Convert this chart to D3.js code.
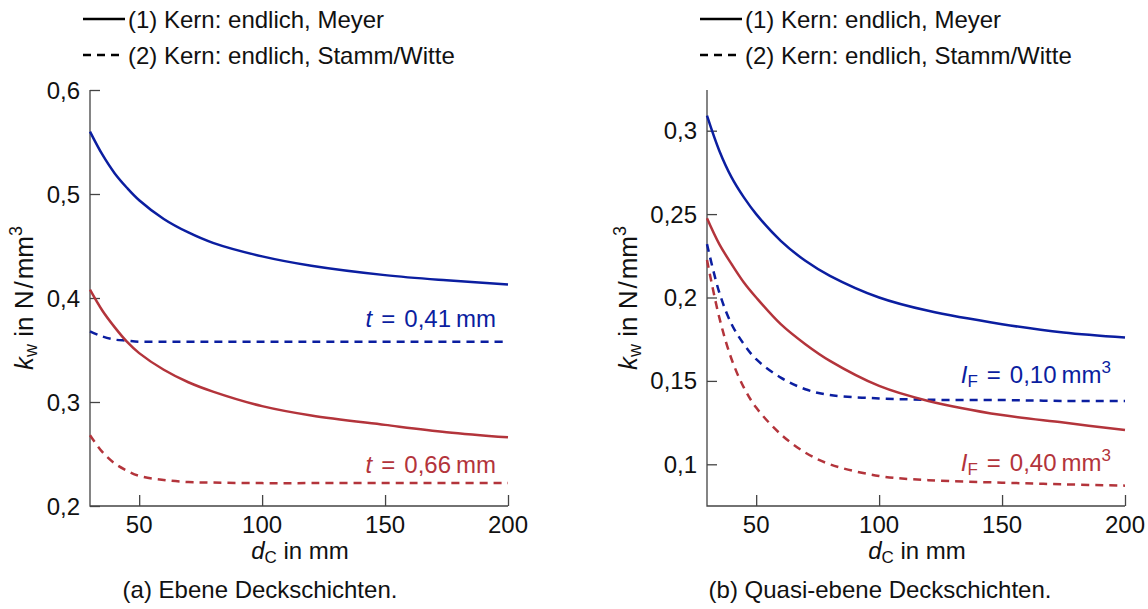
<!DOCTYPE html>
<html>
<head>
<meta charset="utf-8">
<script src="https://cdn.jsdelivr.net/npm/d3@7"></script>
<style>
  body { margin: 0; background: #fff; }
  text { font-family: "Liberation Sans", Arial, sans-serif; fill: #111; }
</style>
</head>
<body>
<svg id="chart" width="1148" height="609"></svg>
<script>
// d_C in mm
const dC = [30, 35, 40, 45, 50, 60, 70, 80, 100, 120, 150, 175, 200];

// (a) Ebene Deckschichten
const aMeyerT041 = [0.560, 0.538, 0.520, 0.506, 0.494, 0.476, 0.463, 0.453, 0.440, 0.431, 0.422, 0.417, 0.413];
const aStammT041 = [0.368, 0.363, 0.360, 0.359, 0.358, 0.358, 0.358, 0.358, 0.358, 0.358, 0.358, 0.358, 0.358];
const aMeyerT066 = [0.408, 0.388, 0.372, 0.358, 0.347, 0.331, 0.319, 0.310, 0.296, 0.287, 0.278, 0.271, 0.266];
const aStammT066 = [0.268, 0.252, 0.241, 0.234, 0.229, 0.225, 0.223, 0.2225, 0.222, 0.222, 0.222, 0.222, 0.222];

// (b) Quasi-ebene Deckschichten
const bMeyerI010 = [0.309, 0.288, 0.272, 0.260, 0.250, 0.234, 0.222, 0.213, 0.200, 0.192, 0.184, 0.179, 0.176];
const bStammI010 = [0.232, 0.203, 0.184, 0.172, 0.163, 0.152, 0.145, 0.1415, 0.1395, 0.1387, 0.1385, 0.138, 0.138];
const bMeyerI040 = [0.2475, 0.232, 0.220, 0.209, 0.200, 0.184, 0.172, 0.162, 0.147, 0.138, 0.1295, 0.125, 0.1205];
const bStammI040 = [0.2225, 0.188, 0.163, 0.146, 0.134, 0.118, 0.107, 0.100, 0.093, 0.0905, 0.089, 0.088, 0.0872];

const xTicks = [50, 100, 150, 200];
const aYTicks = [0.2, 0.3, 0.4, 0.5, 0.6];
const bYTicks = [0.1, 0.15, 0.2, 0.25, 0.3];

const legendLabels = ["(1) Kern: endlich, Meyer", "(2) Kern: endlich, Stamm/Witte"];
const blue = "#0b1ea0";
const red = "#b3343b";
const fs = 24;

const svg = d3.select("#chart");
const fmt = v => String(v).replace(".", ",");

function drawPanel(cfg) {
    const g = svg.append("g");
    const x = d3.scaleLinear().domain([30, 200]).range([cfg.left, cfg.left + 418]);
    const y = d3.scaleLinear().domain(cfg.yDomain).range([506, 90]);

    // legend
    legendLabels.forEach((lab, i) => {
        const ly = 19 + i * 36;
        g.append("line")
            .attr("x1", cfg.left - 7).attr("x2", cfg.left + 35)
            .attr("y1", ly).attr("y2", ly)
            .attr("stroke", "#000").attr("stroke-width", 2.5)
            .attr("stroke-dasharray", i == 1 ? "8,6" : null);
        g.append("text")
            .attr("x", cfg.left + 38).attr("y", ly + 8.5)
            .attr("font-size", fs)
            .text(lab);
    });

    // axes
    const yAxis = d3.axisRight(y).tickValues(cfg.yTicks).tickSize(10).tickFormat("");
    const xAxis = d3.axisTop(x).tickValues(xTicks).tickSize(11).tickFormat("");
    const ya = g.append("g").attr("transform", `translate(${cfg.left},0)`).call(yAxis);
    const xa = g.append("g").attr("transform", `translate(0,506)`).call(xAxis);
    [ya, xa].forEach(a => {
        a.select(".domain").remove();
        a.selectAll("line").attr("stroke", "#444").attr("stroke-width", 1.3);
    });
    g.append("path")
        .attr("d", `M${cfg.left},90V506H${x(200)}`)
        .attr("fill", "none").attr("stroke", "#444").attr("stroke-width", 1.3);

    g.selectAll(".ylab").data(cfg.yTicks).join("text")
        .attr("x", cfg.left - 10).attr("y", d => y(d) + 8.5)
        .attr("text-anchor", "end").attr("font-size", fs)
        .text(fmt);
    g.selectAll(".xlab").data(xTicks).join("text")
        .attr("x", d => x(d)).attr("y", 533)
        .attr("text-anchor", "middle").attr("font-size", fs)
        .text(d => d);

    // axis titles
    const xt = g.append("text")
        .attr("x", x(30) + 210).attr("y", 559)
        .attr("text-anchor", "middle").attr("font-size", fs);
    xt.append("tspan").attr("font-style", "italic").text("d");
    xt.append("tspan").attr("font-size", 17).attr("dy", 4).text("C");
    xt.append("tspan").attr("dy", -4).text(" in mm");

    const yt = g.append("text")
        .attr("transform", `translate(${cfg.yTitleX},298) rotate(-90)`)
        .attr("text-anchor", "middle").attr("font-size", 26);
    yt.append("tspan").attr("font-style", "italic").text("k");
    yt.append("tspan").attr("font-size", 18).attr("dy", 4).text("w");
    yt.append("tspan").attr("dy", -4).text(" in N");
    yt.append("tspan").attr("dx", 2).text("/");
    yt.append("tspan").attr("dx", 2).text("mm");
    yt.append("tspan").attr("font-size", 18).attr("dy", -11).text("3");

    g.append("text")
        .attr("x", cfg.captionX).attr("y", 598)
        .attr("text-anchor", "middle").attr("font-size", fs)
        .text(cfg.caption);

    // curves
    const line = d3.line().x((d, i) => x(dC[i])).y(d => y(d)).curve(d3.curveCatmullRom.alpha(0.5));
    cfg.series.forEach(s => {
        g.append("path")
            .datum(s.values)
            .attr("d", line)
            .attr("fill", "none")
            .attr("stroke", s.color)
            .attr("stroke-width", 2.5)
            .attr("stroke-dasharray", s.dashed ? "8,6" : null);
    });

    // annotations
    cfg.notes.forEach(n => {
        const t = g.append("text")
            .attr("x", n.x).attr("y", n.y)
            .attr("text-anchor", "end").attr("font-size", fs)
            .style("fill", n.color);
        n.parts.forEach(p => {
            const ts = t.append("tspan").text(p.t);
            if (p.italic) ts.attr("font-style", "italic");
            if (p.size) ts.attr("font-size", p.size);
            if (p.dy) ts.attr("dy", p.dy);
            if (p.dx) ts.attr("dx", p.dx);
        });
    });
}

drawPanel({
    left: 90,
    yTitleX: 33,
    yDomain: [0.2, 0.6],
    yTicks: aYTicks,
    caption: "(a) Ebene Deckschichten.",
    captionX: 260,
    series: [
        { values: aMeyerT041, color: blue, dashed: false },
        { values: aStammT041, color: blue, dashed: true },
        { values: aMeyerT066, color: red, dashed: false },
        { values: aStammT066, color: red, dashed: true }
    ],
    notes: [
        { x: 496, y: 327, color: blue, parts: [{ t: "t", italic: true }, { t: "=", dx: 9 }, { t: "0,41", dx: 9 }, { t: "mm", dx: 5 }] },
        { x: 496, y: 473, color: red, parts: [{ t: "t", italic: true }, { t: "=", dx: 9 }, { t: "0,66", dx: 9 }, { t: "mm", dx: 5 }] }
    ]
});

drawPanel({
    left: 707,
    yTitleX: 637,
    yDomain: [0.075, 0.3244],
    yTicks: bYTicks,
    caption: "(b) Quasi-ebene Deckschichten.",
    captionX: 880,
    series: [
        { values: bMeyerI010, color: blue, dashed: false },
        { values: bStammI010, color: blue, dashed: true },
        { values: bMeyerI040, color: red, dashed: false },
        { values: bStammI040, color: red, dashed: true }
    ],
    notes: [
        { x: 1111, y: 383, color: blue, parts: [{ t: "I", italic: true }, { t: "F", size: 17, dy: 4 }, { t: "=", dy: -4, dx: 9 }, { t: "0,10", dx: 9 }, { t: "mm", dx: 5 }, { t: "3", size: 17, dy: -10 }] },
        { x: 1111, y: 471, color: red, parts: [{ t: "I", italic: true }, { t: "F", size: 17, dy: 4 }, { t: "=", dy: -4, dx: 9 }, { t: "0,40", dx: 9 }, { t: "mm", dx: 5 }, { t: "3", size: 17, dy: -10 }] }
    ]
});
</script>
</body>
</html>
